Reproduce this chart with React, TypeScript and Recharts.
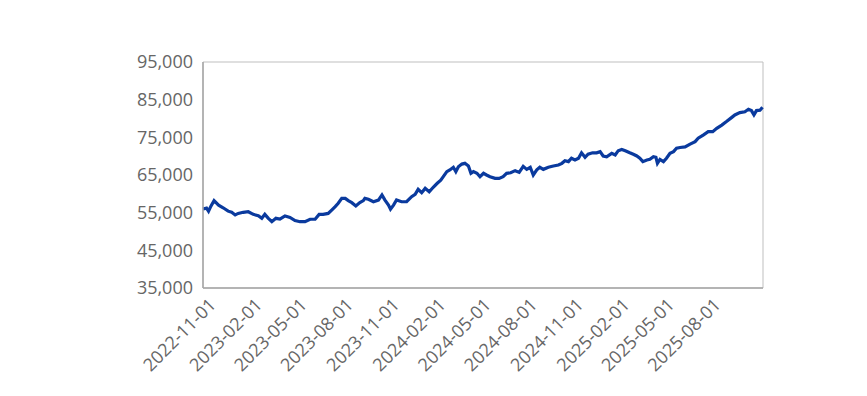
import React from 'react';
import { LineChart, Line, XAxis, YAxis, ReferenceArea } from 'recharts';

const dates = [
  '2022-10-12', '2022-10-19', '2022-10-23', '2022-10-28', '2022-11-03', '2022-11-12', '2022-11-21', '2022-12-01',
  '2022-12-08', '2022-12-15', '2022-12-21', '2022-12-31', '2023-01-10', '2023-01-20', '2023-01-30', '2023-02-06',
  '2023-02-12', '2023-02-19', '2023-02-26', '2023-03-06', '2023-03-14', '2023-03-21', '2023-03-24', '2023-04-03',
  '2023-04-13', '2023-04-23', '2023-05-03', '2023-05-13', '2023-05-23', '2023-05-31', '2023-06-08', '2023-06-18',
  '2023-06-25', '2023-07-02', '2023-07-08', '2023-07-15', '2023-07-22', '2023-07-28', '2023-08-04', '2023-08-12',
  '2023-08-20', '2023-08-27', '2023-08-30', '2023-09-06', '2023-09-16', '2023-09-26', '2023-10-03', '2023-10-09',
  '2023-10-16', '2023-10-20', '2023-10-26', '2023-11-01', '2023-11-11', '2023-11-21', '2023-12-01', '2023-12-08',
  '2023-12-14', '2023-12-21', '2023-12-28', '2024-01-05', '2024-01-13', '2024-01-21', '2024-01-28', '2024-02-02',
  '2024-02-09', '2024-02-15', '2024-02-22', '2024-02-27', '2024-03-03', '2024-03-10', '2024-03-16', '2024-03-23',
  '2024-03-28', '2024-04-02', '2024-04-09', '2024-04-15', '2024-04-22', '2024-04-28', '2024-05-05', '2024-05-15',
  '2024-05-23', '2024-05-31', '2024-06-07', '2024-06-15', '2024-06-24', '2024-07-02', '2024-07-10', '2024-07-17',
  '2024-07-24', '2024-07-30', '2024-08-06', '2024-08-12', '2024-08-19', '2024-08-29', '2024-09-08', '2024-09-18',
  '2024-09-25', '2024-10-01', '2024-10-08', '2024-10-14', '2024-10-21', '2024-10-28', '2024-11-03', '2024-11-10',
  '2024-11-16', '2024-11-25', '2024-12-03', '2024-12-10', '2024-12-16', '2024-12-23', '2025-01-02', '2025-01-09',
  '2025-01-15', '2025-01-22', '2025-01-29', '2025-02-07', '2025-02-14', '2025-02-21', '2025-02-27', '2025-03-05',
  '2025-03-13', '2025-03-19', '2025-03-26', '2025-03-31', '2025-04-03', '2025-04-08', '2025-04-15', '2025-04-21',
  '2025-04-28', '2025-05-05', '2025-05-11', '2025-05-18', '2025-05-28', '2025-06-07', '2025-06-17', '2025-06-23',
  '2025-07-03', '2025-07-13', '2025-07-22', '2025-07-30', '2025-08-09', '2025-08-19', '2025-08-29', '2025-09-04',
  '2025-09-14', '2025-09-24', '2025-10-01', '2025-10-07', '2025-10-12', '2025-10-17', '2025-10-24', '2025-10-29',
];

const values = [
  55970, 56200, 55400, 56800, 58200, 57000, 56300, 55400,
  55100, 54400, 54800, 55100, 55250, 54550, 54200, 53500,
  54550, 53500, 52600, 53500, 53300, 53900, 54100, 53750,
  52900, 52600, 52600, 53250, 53250, 54550, 54550, 54800,
  55700, 56600, 57500, 58800, 58800, 58200, 57650, 56800,
  57700, 58200, 58800, 58550, 57900, 58350, 59700, 58350,
  57000, 55900, 57000, 58350, 57900, 57900, 59250, 59850,
  61200, 60300, 61450, 60550, 61750, 62800, 63600, 64550,
  65900, 66350, 67050, 65900, 67200, 67900, 68100, 67400,
  65450, 65900, 65450, 64550, 65450, 65000, 64550, 64100,
  64100, 64550, 65450, 65600, 66150, 65700, 67300, 66500,
  67050, 65000, 66350, 67050, 66500, 67050, 67400, 67650,
  68100, 68800, 68550, 69450, 69000, 69450, 70900, 69700,
  70550, 70900, 70900, 71200, 70050, 69850, 70750, 70300,
  71450, 71800, 71450, 70900, 70500, 70050, 69450, 68550,
  69000, 69150, 69850, 69700, 68100, 69150, 68550, 69450,
  70750, 71200, 72100, 72300, 72450, 73200, 73850, 74750,
  75600, 76500, 76500, 77400, 78250, 79250, 80300, 80950,
  81550, 81800, 82450, 82100, 80950, 82100, 82200, 83000,
];

const xTicks = [
  '2022-11-01', '2023-02-01', '2023-05-01', '2023-08-01', '2023-11-01', '2024-02-01',
  '2024-05-01', '2024-08-01', '2024-11-01', '2025-02-01', '2025-05-01', '2025-08-01',
];
const yTicks = [35000, 45000, 55000, 65000, 75000, 85000, 95000];

const xStart = Date.parse('2022-10-12');
const xEnd = Date.parse('2025-10-30');

const data = dates.map((d, i) => ({ t: Date.parse(d), v: values[i] }));

const FONT = '"Open Sans", sans-serif';

const DateTick = (props: any) => {
  const { x, y, payload } = props;
  const label = new Date(payload.value).toISOString().slice(0, 10);
  return (
    <g transform={`translate(${x + 4},${y + 10})`}>
      <text x={0} y={0} textAnchor="end" transform="rotate(-45)" fill="#666" fontSize={18} fontFamily={FONT}>
        {label}
      </text>
    </g>
  );
};

export default function App() {
  return (
    <div style={{ position: 'absolute', left: 0, top: 0, background: '#fff' }}>
      <LineChart width={867} height={396} data={data} margin={{ top: 62, right: 104, left: 0, bottom: 8 }}>
        <XAxis
          dataKey="t"
          type="number"
          domain={[xStart, xEnd]}
          ticks={xTicks.map((d) => Date.parse(d))}
          tick={<DateTick />}
          tickLine={false}
          axisLine={{ stroke: '#a6a6a6', strokeWidth: 1.5 }}
          height={100}
          interval={0}
        />
        <YAxis
          domain={[35000, 95000]}
          ticks={yTicks}
          tickFormatter={(v: number) => v.toLocaleString('en-US')}
          tick={{ fill: '#666', fontSize: 18, fontFamily: FONT }}
          tickLine={false}
          tickSize={0}
          tickMargin={10}
          axisLine={{ stroke: '#a6a6a6', strokeWidth: 1.5 }}
          width={203}
          interval={0}
        />
        <ReferenceArea x1={xStart} x2={xEnd} y1={35000} y2={95000} fill="none" stroke="#bfbfbf" strokeWidth={1} />
        <Line
          type="linear"
          dataKey="v"
          stroke="#0a3a9e"
          strokeWidth={3.2}
          dot={false}
          isAnimationActive={false}
        />
      </LineChart>
    </div>
  );
}
